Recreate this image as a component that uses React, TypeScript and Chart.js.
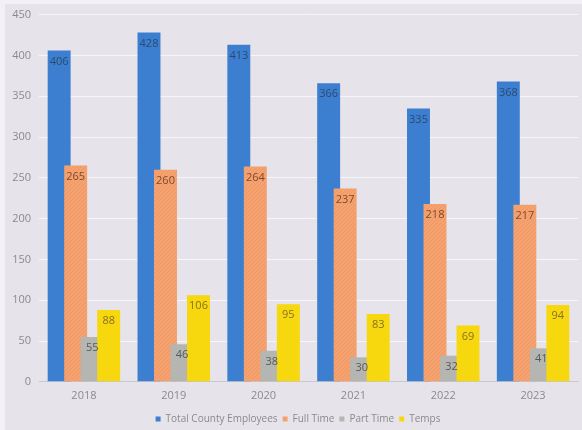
import React, { useEffect, useRef } from "react";
import { Chart, registerables } from "chart.js";

Chart.register(...registerables);

const categories = ["2018", "2019", "2020", "2021", "2022", "2023"];
const totalEmployees = [406, 428, 413, 366, 335, 368];
const fullTime = [265, 260, 264, 237, 218, 217];
const partTime = [55, 46, 38, 30, 32, 41];
const temps = [88, 106, 95, 83, 69, 94];
const yTicks = [0, 50, 100, 150, 200, 250, 300, 350, 400, 450];

const seriesNames = ["Total County Employees", "Full Time", "Part Time", "Temps"];
const seriesColors = ["#3c7fd0", "#f5a271", "#b5b5b1", "#f7d70d"];
const labelColors = ["#2c4a6e", "#7d4a2c", "#555a5a", "#857326"];

const FONT = "'Open Sans', 'DejaVu Sans', sans-serif";

function makeHatch(base: string, stripe: string): CanvasPattern | string {
  const c = document.createElement("canvas");
  c.width = 4;
  c.height = 4;
  const g = c.getContext("2d");
  if (!g) return base;
  g.fillStyle = base;
  g.fillRect(0, 0, 4, 4);
  g.strokeStyle = stripe;
  g.lineWidth = 1;
  g.beginPath();
  g.moveTo(0, 4);
  g.lineTo(4, 0);
  g.moveTo(-1, 1);
  g.lineTo(1, -1);
  g.moveTo(3, 5);
  g.lineTo(5, 3);
  g.stroke();
  const p = g.createPattern(c, "repeat");
  return p || base;
}

const bgPlugin = {
  id: "bgPlugin",
  afterLayout(chart: any) {
    if (chart.legend) {
      chart.legend.left += 18;
    }
  },
  beforeDraw(chart: any) {
    const { ctx, width, height } = chart;
    ctx.save();
    ctx.fillStyle = "#f3f1f5";
    ctx.fillRect(0, 0, width, height);
    ctx.fillStyle = "#e6e4ea";
    ctx.fillRect(5, 4, width - 5, height - 4);
    ctx.restore();
  },
};

const orderPlugin = {
  id: "orderPlugin",
  beforeDatasetsDraw(chart: any) {
    const metas = chart.getSortedVisibleDatasetMetas();
    const ctx = chart.ctx;
    for (let i = 0; i < metas.length; i++) {
      metas[i].controller.draw();
    }
    ctx.save();
    ctx.font = `11px ${FONT}`;
    ctx.textAlign = "center";
    ctx.textBaseline = "middle";
    for (let i = 0; i < metas.length; i++) {
      const meta = metas[i];
      const ds = chart.data.datasets[meta.index];
      ctx.fillStyle = labelColors[meta.index];
      meta.data.forEach((el: any, j: number) => {
        ctx.fillText(String(ds.data[j]), el.x, el.y + 11);
      });
    }
    ctx.restore();
    return false;
  },
};

export default function App() {
  const ref = useRef<HTMLCanvasElement | null>(null);

  useEffect(() => {
    if (!ref.current) return;
    const seriesData = [totalEmployees, fullTime, partTime, temps];
    const fills = seriesColors.map((c, i) => (i === 1 ? makeHatch(c, "#f29763") : c));
    const chart = new Chart(ref.current, {
      type: "bar",
      data: {
        labels: categories,
        datasets: seriesData.map((d, i) => ({
          label: seriesNames[i],
          data: d,
          backgroundColor: fills[i] as any,
          borderWidth: 0,
          categoryPercentage: 0.735,
          barPercentage: 1.39,
        })),
      },
      options: {
        animation: false,
        responsive: false,
        maintainAspectRatio: false,
        layout: { padding: { left: 0, right: 4, top: 11, bottom: -4 } },
        plugins: {
          tooltip: { enabled: false },
          legend: {
            position: "bottom",
            labels: {
              boxWidth: 5,
              boxHeight: 5,
              padding: 5,
              color: "#8a8a8e",
              generateLabels(chart: any) {
                return chart.data.datasets.map((ds: any, i: number) => ({
                  text: ds.label,
                  fillStyle: seriesColors[i],
                  strokeStyle: seriesColors[i],
                  lineWidth: 0,
                  hidden: false,
                  datasetIndex: i,
                  fontColor: "#8a8a8e",
                }));
              },
              font: { size: 10, family: FONT },
            },
          },
        },
        scales: {
          x: {
            grid: { display: false, drawTicks: false },
            border: { display: true, color: "#c9c8cc" },
            ticks: { color: "#8a8a8e", font: { size: 11, family: FONT }, padding: 7 },
          },
          y: {
            min: 0,
            max: 450,
            afterBuildTicks(scale: any) {
              scale.ticks = yTicks.map((v) => ({ value: v }));
            },
            afterFit(scale: any) {
              scale.width = 39;
            },
            grid: { color: "#f6f5f8", lineWidth: 1, drawTicks: false },
            border: { display: false },
            ticks: { color: "#8a8a8e", font: { size: 11, family: FONT }, padding: 8 },
          },
        },
      },
      plugins: [bgPlugin, orderPlugin],
    });
    return () => chart.destroy();
  }, []);

  return (
    <div style={{ position: "fixed", left: 0, top: 0, width: 582, height: 430 }}>
      <canvas ref={ref} width={582} height={430} style={{ display: "block" }} />
    </div>
  );
}
